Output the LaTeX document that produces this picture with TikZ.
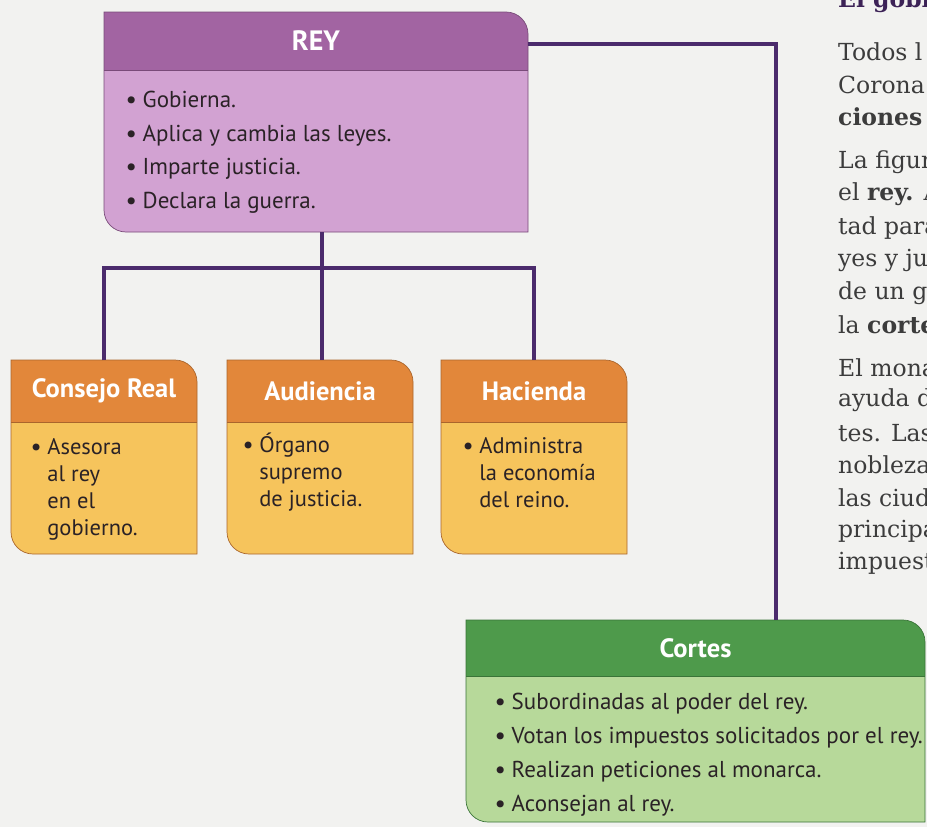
\documentclass[tikz,border=0pt]{standalone}
\usepackage{fontspec}
\setmainfont{PT Sans}
\newfontfamily\bookfont{DejaVu Serif}
\usetikzlibrary{positioning,backgrounds}

\definecolor{reyhead}{HTML}{A264A2}
\definecolor{reybody}{HTML}{D2A2D2}
\definecolor{orghead}{HTML}{E2873A}
\definecolor{orgbody}{HTML}{F6C45C}
\definecolor{corhead}{HTML}{4E9A4B}
\definecolor{corbody}{HTML}{B7D99A}
\definecolor{linkcol}{HTML}{4B2B6C}
\definecolor{pagecol}{HTML}{F2F2F0}
\definecolor{inkcol}{HTML}{2A2226}
\definecolor{bookcol}{HTML}{3C3C3C}

\newcommand{\rr}{22pt}
\newcommand{\bul}{\textbf{\textbullet}~}
% header node, body node, header colour, body colour
\newcommand{\orgbox}[4]{%
  \begin{pgfonlayer}{background}
    \fill[#3] (#1.south west) -- (#1.north west) -- ([xshift=-\rr]#1.north east)
      arc[start angle=90,end angle=0,radius=\rr] -- (#1.south east) -- cycle;
    \fill[#4] (#2.north west) -- (#2.north east) -- (#2.south east) -- ([xshift=\rr]#2.south west)
      arc[start angle=270,end angle=180,radius=\rr] -- cycle;
    \draw[#3!75!black, line width=0.8pt] (#1.south west) -- (#1.south east);
    \draw[#3!75!black, line width=0.7pt] ([xshift=\rr]#2.south west) -- (#2.south east)
      -- ([yshift=-\rr]#1.north east) arc[start angle=0,end angle=90,radius=\rr]
      -- (#1.north west) -- ([yshift=\rr]#2.south west)
      arc[start angle=180,end angle=270,radius=\rr] -- cycle;
  \end{pgfonlayer}}

\begin{document}
\begin{tikzpicture}[x=1pt, y=1pt,
    hdr/.style={rectangle, inner sep=0pt, outer sep=0pt, text=white,
      font=\bfseries\fontsize{26.5}{30}\selectfont},
    bodyn/.style={rectangle, inner sep=0pt, outer sep=0pt},
    itm/.style={anchor=north west, align=left, inner sep=0pt, text=inkcol,
      font=\fontsize{23}{33.5}\selectfont},
    smallitm/.style={itm, font=\fontsize{22.5}{27}\selectfont},
    link/.style={draw=linkcol, line width=4pt},
    book/.style={anchor=west, inner sep=0pt, text=bookcol,
      font=\bookfont\fontsize{23.5}{28}\selectfont}
  ]
  \useasboundingbox (0,0) rectangle (927,-827);
  \begin{pgfonlayer}{background}
    \fill[pagecol] (0,0) rectangle (927,-827);
  \end{pgfonlayer}

  % rey
  \node[hdr, font=\bfseries\fontsize{28}{30}\selectfont, minimum width=424pt, minimum height=58pt] (rey) at (316,-41) {REY};
  \node[bodyn, minimum width=424pt, minimum height=162pt, below=0pt of rey] (reyb) {};
  \orgbox{rey}{reyb}{reyhead}{reybody}
  \node[itm] (reyt) at ([xshift=22pt,yshift=-21pt]reyb.north west)
    {\bul Gobierna.\\\bul Aplica y cambia las leyes.\\
     \bul Imparte justicia.\\\bul Declara la guerra.};

  % consejos
  \node[hdr, minimum width=186pt, minimum height=62pt] (conse) at (104,-391) {Consejo Real};
  \node[bodyn, minimum width=186pt, minimum height=132pt, below=0pt of conse] (conseb) {};
  \orgbox{conse}{conseb}{orghead}{orgbody}
  \node[smallitm] (conset) at ([xshift=20pt,yshift=-16pt]conseb.north west)
    {\bul Asesora\\\phantom{\bul}al rey\\\phantom{\bul}en el\\
     \phantom{\bul}gobierno.};

  \node[hdr, minimum width=186pt, minimum height=62pt] (audi) at (320,-391) {Audiencia};
  \node[bodyn, minimum width=186pt, minimum height=132pt, below=0pt of audi] (audib) {};
  \orgbox{audi}{audib}{orghead}{orgbody}
  \node[smallitm] (audit) at ([xshift=16pt,yshift=-11pt]audib.north west)
    {\bul Órgano\\\phantom{\bul}supremo\\\phantom{\bul}de justicia.};

  \node[hdr, minimum width=186pt, minimum height=62pt] (haci) at (534,-391) {Hacienda};
  \node[bodyn, minimum width=186pt, minimum height=132pt, below=0pt of haci] (hacib) {};
  \orgbox{haci}{hacib}{orghead}{orgbody}
  \node[smallitm] (hacit) at ([xshift=22pt,yshift=-15pt]hacib.north west)
    {\bul Administra\\\phantom{\bul}la economía\\\phantom{\bul}del reino.};

  % cortes
  \node[hdr, minimum width=459pt, minimum height=56pt] (cortes) at (695.5,-648) {Cortes};
  \node[bodyn, minimum width=459pt, minimum height=146pt, below=0pt of cortes] (cortesb) {};
  \orgbox{cortes}{cortesb}{corhead}{corbody}
  \node[itm, font=\fontsize{23}{34}\selectfont] (cortest) at ([xshift=29pt,yshift=-17pt]cortesb.north west)
    {\bul Subordinadas al poder del rey.\\
     \bul Votan los impuestos solicitados por el rey.\\
     \bul Realizan peticiones al monarca.\\
     \bul Aconsejan al rey.};

  % lines
  \draw[link] ([yshift=-3pt]rey.east) -| ([xshift=80pt]cortes.north);
  \draw[link] ([xshift=6pt]reyb.south) -- ++(0,-36) coordinate (fork);
  \draw[link] (conse.north) |- (fork) -| (haci.north);
  \draw[link] (fork) -- (fork |- audi.north);

  % page text
  \node[book, text=linkcol!80!black, font=\bookfont\bfseries\fontsize{23.5}{28}\selectfont] (tit) at (838,-1) {El gobie};
  \foreach \yy/\tx [count=\i] in {52/Todos l, 85/Corona, 117/\textbf{ciones},
      162/La figur, 194/el \textbf{rey.} A, 228/tad para, 260/yes y juz, 293/de un g,
      325/la \textbf{corte}, 368/El mona, 400/ayuda d, 433/tes. Las, 466/{nobleza,},
      498/las ciuda, 531/principa, 563/impuest}
    \node[book] (txt\i) at (838,-\yy) {\tx};
\end{tikzpicture}
\end{document}
